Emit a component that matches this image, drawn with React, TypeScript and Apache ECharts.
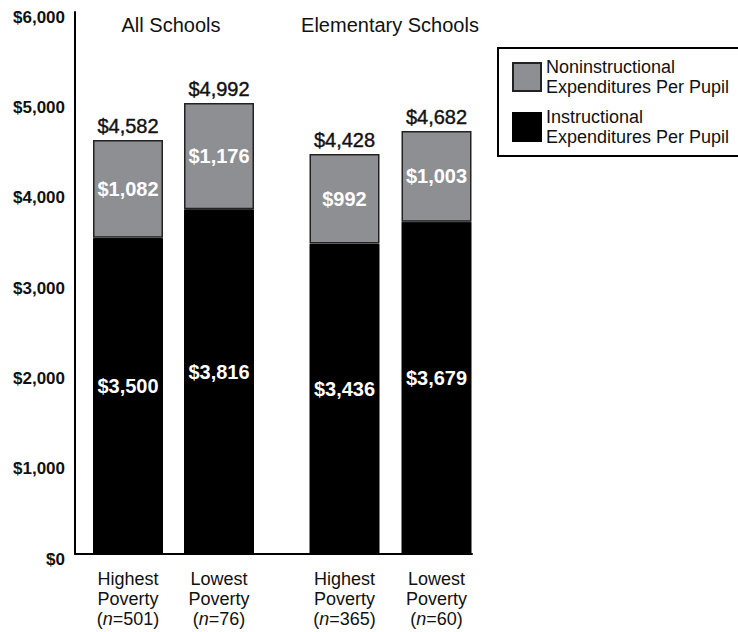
import React, { useEffect, useRef } from "react";
import * as echarts from "echarts";

const groupTitles = ["All Schools", "Elementary Schools"];
const categories = ["Highest Poverty", "Lowest Poverty", "Highest Poverty", "Lowest Poverty"];
const sampleSizes = [501, 76, 365, 60];
const instructional = [3500, 3816, 3436, 3679];
const noninstructional = [1082, 1176, 992, 1003];
const totals = [4582, 4992, 4428, 4682];
const yTicks = [0, 1000, 2000, 3000, 4000, 5000, 6000];

const NAME_NON = "Noninstructional\nExpenditures Per Pupil";
const NAME_INS = "Instructional\nExpenditures Per Pupil";
const FONT = "'Liberation Sans', Arial, Helvetica, sans-serif";
const GRAY = "#8e8f93";

const money = (v: number) => "$" + v.toLocaleString("en-US");

export default function App() {
  const ref = useRef<HTMLDivElement>(null);
  useEffect(() => {
    if (!ref.current) return;
    const chart = echarts.init(ref.current, null, { renderer: "svg" });

    const groups = [
      { idx: [0, 1], left: 82.5, width: 182, center: 171 },
      { idx: [2, 3], left: 298.5, width: 184, center: 390 },
    ];

    const grids: any[] = [{ left: 75, top: 12, width: 397, height: 542 }];
    const xAxes: any[] = [
      {
        type: "value",
        gridIndex: 0,
        min: 0,
        max: 1,
        axisLine: { show: true, lineStyle: { color: "#000", width: 2 } },
        axisTick: { show: false },
        axisLabel: { show: false },
        splitLine: { show: false },
      },
    ];
    const yAxes: any[] = [
      {
        type: "value",
        gridIndex: 0,
        min: yTicks[0],
        max: yTicks[yTicks.length - 1],
        interval: 1000,
        axisLine: { show: true, lineStyle: { color: "#000", width: 2 } },
        axisTick: { show: false },
        splitLine: { show: false },
        axisLabel: {
          formatter: (v: number) => money(v),
          fontFamily: FONT,
          fontSize: 17,
          fontWeight: "bold",
          color: "#111",
          margin: 10,
          verticalAlign: "top",
          lineHeight: 10,
        },
      },
    ];
    const series: any[] = [];

    groups.forEach((g, gi) => {
      const gridIndex = gi + 1;
      grids.push({ left: g.left, top: 12, width: g.width, height: 542 });
      xAxes.push({
        type: "category",
        gridIndex,
        data: g.idx.map((i) => categories[i]),
        axisLine: { show: false },
        axisTick: { show: false },
        axisLabel: {
          interval: 0,
          margin: 15,
          formatter: (val: string, k: number) => {
            const parts = val.split(" ");
            return parts.join("\n") + "\n({i|n}=" + sampleSizes[g.idx[k]] + ")";
          },
          fontFamily: FONT,
          fontSize: 18,
          lineHeight: 20,
          color: "#111",
          rich: {
            i: { fontFamily: FONT, fontSize: 18, lineHeight: 20, fontStyle: "italic", color: "#111" },
          },
        },
      });
      yAxes.push({
        type: "value",
        gridIndex,
        min: yTicks[0],
        max: yTicks[yTicks.length - 1],
        show: false,
        splitLine: { show: false },
      });
      const stack = "s" + gi;
      series.push({
        name: NAME_INS,
        type: "bar",
        stack,
        xAxisIndex: gridIndex,
        yAxisIndex: gridIndex,
        barWidth: 70,
        data: g.idx.map((i) => instructional[i]),
        itemStyle: { color: "#000", borderColor: "#000", borderWidth: 1 },
        label: {
          show: true,
          position: "inside",
          offset: [0, -10],
          formatter: (p: any) => money(p.value),
          color: "#fff",
          fontFamily: FONT,
          fontSize: 20,
          fontWeight: "bold",
        },
      });
      series.push({
        name: NAME_NON,
        type: "bar",
        stack,
        xAxisIndex: gridIndex,
        yAxisIndex: gridIndex,
        barWidth: 70,
        data: g.idx.map((i) => noninstructional[i]),
        itemStyle: { color: GRAY, borderColor: "#222", borderWidth: 1.5 },
        label: {
          show: true,
          position: "inside",
          formatter: (p: any) => money(p.value),
          color: "#fff",
          fontFamily: FONT,
          fontSize: 20,
          fontWeight: "bold",
        },
      });
      series.push({
        name: "total",
        type: "bar",
        stack,
        xAxisIndex: gridIndex,
        yAxisIndex: gridIndex,
        barWidth: 70,
        data: g.idx.map(() => 0),
        itemStyle: { color: "transparent", borderWidth: 0 },
        label: {
          show: true,
          position: "top",
          distance: 4,
          formatter: (p: any) => money(totals[g.idx[p.dataIndex]]),
          color: "#111",
          fontFamily: FONT,
          fontSize: 20,
          textBorderColor: "#111",
          textBorderWidth: 0.4,
        },
      });
    });

    chart.setOption({
      animation: false,
      backgroundColor: "#fff",
      textStyle: { fontFamily: FONT },
      grid: grids,
      xAxis: xAxes,
      yAxis: yAxes,
      series,
      legend: {
        data: [NAME_NON, NAME_INS],
        orient: "vertical",
        left: 498,
        top: 48,
        itemWidth: 28,
        itemHeight: 28,
        itemGap: 10,
        itemTextGap: 14,
        selectedMode: false,
        icon: "rect",
        borderColor: "#000",
        borderWidth: 2,
        padding: [9, 12, 9, 14],
        textStyle: { fontFamily: FONT, fontSize: 18, lineHeight: 20, color: "#111" },
      },
      graphic: groups.map((g, gi) => ({
        type: "text",
        x: g.center,
        y: 25,
        style: {
          text: groupTitles[gi],
          textAlign: "center",
          textVerticalAlign: "middle",
          fontFamily: FONT,
          fontSize: 20,
          fill: "#111",
        },
      })),
    });
    return () => chart.dispose();
  }, []);
  return <div ref={ref} style={{ position: "absolute", left: 0, top: 0, width: 738, height: 632 }} />;
}
